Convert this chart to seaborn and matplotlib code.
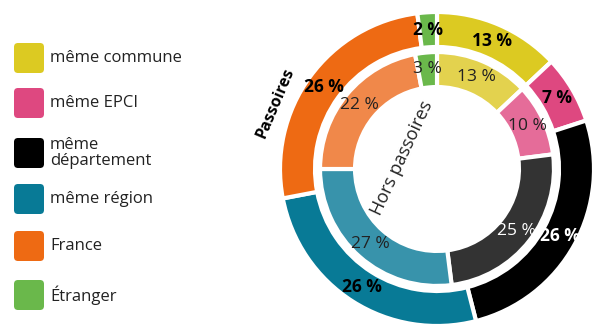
import numpy as np
import matplotlib.pyplot as plt
import seaborn as sns
from matplotlib.patches import FancyBboxPatch

categories = ["même commune", "même EPCI", "même\ndépartement", "même région", "France", "Étranger"]
passoires = [13, 7, 26, 26, 26, 2]
hors_passoires = [13, 10, 25, 27, 22, 3]
outer_colors = ["#DCCA22", "#DE4880", "#000000", "#087A96", "#EE6A13", "#6AB84B"]
inner_colors = ["#E3D24E", "#E56C99", "#333333", "#3893AB", "#F0884A", "#6AB84B"]
outer_text = ["black", "black", "white", "black", "black", "black"]
inner_text = ["#222222", "#222222", "white", "#222222", "#222222", "#222222"]

sns.set_theme(style="white")
plt.rcParams['font.family'] = ['Open Sans', 'DejaVu Sans']

W, H = 597, 325
fig = plt.figure(figsize=(W / 100, H / 100), dpi=100)

# pie axes: centre at (437, 169) px, outer radius ~157 px
cx, cy, half = 437, 169, 160
ax = fig.add_axes([(cx - half) / W, (H - cy - half) / H, 2 * half / W, 2 * half / H])
lim = half / 157

ring = 0.223
wo, _ = ax.pie(passoires, radius=1.0, colors=outer_colors, startangle=90, counterclock=False,
               wedgeprops=dict(width=ring, edgecolor="white", linewidth=3))
wi, _ = ax.pie(hors_passoires, radius=0.745, colors=inner_colors, startangle=90, counterclock=False,
               wedgeprops=dict(width=ring, edgecolor="white", linewidth=3))

def label_ring(wedges, vals, r, cols, weight):
    for w, v, c in zip(wedges, vals, cols):
        a = np.deg2rad((w.theta1 + w.theta2) / 2)
        ax.text(r * np.cos(a), r * np.sin(a), f"{v} %", ha="center", va="center",
                fontsize=12.5, fontweight=weight, color=c)

label_ring(wo, passoires, 0.89, outer_text, "bold")
label_ring(wi, hors_passoires, 0.64, inner_text, "normal")

ax.text(-1.03, 0.42, "Passoires", rotation=67, ha="center", va="center",
        fontsize=11.5, fontweight="bold", color="black")
ax.text(-0.22, 0.07, "Hors passoires", rotation=65, ha="center", va="center",
        fontsize=13, color="#222222")
ax.set_xlim(-lim, lim)
ax.set_ylim(-lim, lim)
ax.set_aspect("equal")
ax.axis("off")

# legend drawn in pixel coordinates
lg = fig.add_axes([0, 0, 1, 1], zorder=-1)
lg.set_xlim(0, W)
lg.set_ylim(H, 0)
lg.axis("off")
rows = [58, 103, 153, 199, 246, 295]
for y, lab, col in zip(rows, categories, outer_colors):
    lg.add_patch(FancyBboxPatch((14, y - 15), 30, 30, boxstyle="round,pad=0,rounding_size=4",
                                facecolor=col, edgecolor="none"))
    lg.text(50, y, lab, ha="left", va="center", fontsize=12, color="#222222", linespacing=0.95)

fig.savefig("out.png", dpi=100)
